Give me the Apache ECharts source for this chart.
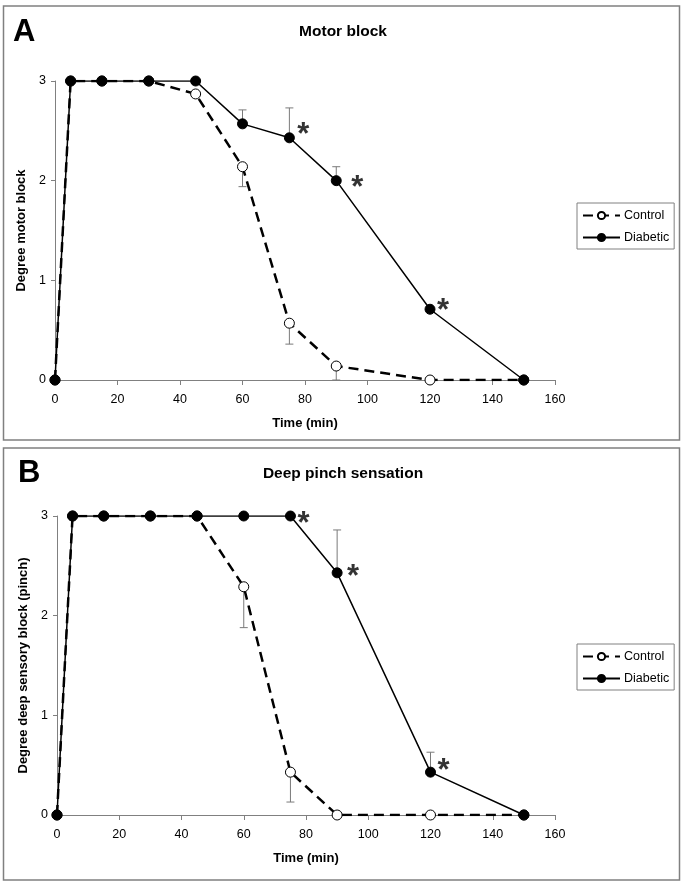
<!DOCTYPE html>
<html>
<head>
<meta charset="utf-8">
<script src="https://cdn.jsdelivr.net/npm/echarts@6/dist/echarts.min.js"></script>
<style>
html,body{margin:0;padding:0;background:#fff;}
#chart{width:683px;height:884px;}
</style>
</head>
<body>
<div id="chart"></div>
<script>
// ---- data ----
const times = [0, 5, 15, 30, 45, 60, 75, 90, 120, 150];
const xTicks = [0, 20, 40, 60, 80, 100, 120, 140, 160];
const yTicks = [0, 1, 2, 3];

// Panel A: Motor block
const controlA = [0, 3, 3, 3, 2.87, 2.14, 0.57, 0.14, 0, 0];
const diabeticA = [0, 3, 3, 3, 3, 2.57, 2.43, 2.0, 0.71, 0];
const errCtrlTimesA = [60, 75, 90];
const errCtrlEndA = [1.94, 0.36, 0];
const errDiabTimesA = [60, 75, 90];
const errDiabEndA = [2.71, 2.73, 2.14];
const starTimesA = [75, 90, 120];

// Panel B: Deep pinch sensation
const controlB = [0, 3, 3, 3, 3, 2.29, 0.43, 0, 0, 0];
const diabeticB = [0, 3, 3, 3, 3, 3, 3, 2.43, 0.43, 0];
const errCtrlTimesB = [60, 75];
const errCtrlEndB = [1.88, 0.13];
const errDiabTimesB = [90, 120];
const errDiabEndB = [2.86, 0.63];
const starTimesB = [75, 90, 120];

// label offsets for asterisks (style only)
const starOffsetA = [[14, -2], [21, 8], [13, 2]];
const starOffsetB = [[13, 8], [16, 5], [13, -1]];

const FONT = '"Liberation Sans", Arial, sans-serif';

function pairs(xs, ys) { return xs.map((x, i) => [x, ys[i]]); }
function errData(xs, series, ends) {
  return xs.map((x, i) => [x, series[times.indexOf(x)], ends[i]]);
}
function starData(xs, series, offs) {
  return xs.map((x, i) => ({ value: [x, series[times.indexOf(x)]], label: { offset: offs[i] } }));
}
function errRender(params, api) {
  const x = api.value(0), y1 = api.value(1), y2 = api.value(2);
  const p1 = api.coord([x, y1]), p2 = api.coord([x, y2]);
  const w = 4;
  const st = { stroke: '#7a7a7a', lineWidth: 1 };
  return {
    type: 'group',
    children: [
      { type: 'line', shape: { x1: p1[0], y1: p1[1], x2: p2[0], y2: p2[1] }, style: st },
      { type: 'line', shape: { x1: p2[0] - w, y1: p2[1], x2: p2[0] + w, y2: p2[1] }, style: st }
    ]
  };
}

function xAxis(gridIndex) {
  return {
    type: 'value', gridIndex, min: xTicks[0], max: xTicks[xTicks.length - 1], interval: 20,
    name: 'Time (min)', nameLocation: 'middle', nameGap: 37,
    nameTextStyle: { fontFamily: FONT, fontSize: 13, fontWeight: 'bold', color: '#000' },
    axisLine: { show: true, onZero: false, lineStyle: { color: '#808080', width: 1 } },
    axisTick: { show: true, inside: false, length: 5, lineStyle: { color: '#808080' } },
    axisLabel: { fontFamily: FONT, fontSize: 12.5, color: '#000', margin: 13 },
    splitLine: { show: false }
  };
}
function yAxis(gridIndex, name, gap) {
  return {
    type: 'value', gridIndex, min: yTicks[0], max: yTicks[yTicks.length - 1], interval: 1,
    name, nameLocation: 'middle', nameGap: gap,
    nameTextStyle: { fontFamily: FONT, fontSize: 13, fontWeight: 'bold', color: '#000' },
    axisLine: { show: true, lineStyle: { color: '#808080', width: 1 } },
    axisTick: { show: true, inside: false, length: 4, lineStyle: { color: '#808080' } },
    axisLabel: { fontFamily: FONT, fontSize: 12.5, color: '#000', margin: 9 },
    splitLine: { show: false }
  };
}

function lineSeries(name, data, gi, dashed) {
  return {
    name, type: 'line', xAxisIndex: gi, yAxisIndex: gi,
    data: pairs(times, data),
    symbol: 'circle', symbolSize: 10, z: dashed ? 3 : 4,
    lineStyle: dashed ? { color: '#000', width: 2.5, type: [10, 6] } : { color: '#000', width: 1.5, type: 'solid' },
    itemStyle: dashed ? { color: '#fff', borderColor: '#000', borderWidth: 1 } : { color: '#000', borderColor: '#000', borderWidth: 1 },
    emphasis: { disabled: true },
    animation: false
  };
}
function errSeries(name, data, gi) {
  return { name, type: 'custom', xAxisIndex: gi, yAxisIndex: gi, data, renderItem: errRender, z: 1, animation: false, silent: true };
}
function starSeries(data, gi) {
  return {
    type: 'scatter', xAxisIndex: gi, yAxisIndex: gi, data,
    symbolSize: 1, itemStyle: { color: 'rgba(0,0,0,0)' }, z: 5, silent: true, animation: false,
    label: { show: true, position: 'inside', formatter: '*', fontFamily: FONT, fontSize: 31, fontWeight: 'bold', color: '#000' }
  };
}
function legend(top) {
  return {
    data: ['Control', 'Diabetic'], orient: 'vertical', left: 577, top,
    padding: [6, 5, 5, 5], itemGap: 9, itemWidth: 37, itemHeight: 9,
    borderColor: '#808080', borderWidth: 1, backgroundColor: '#fff',
    textStyle: { fontFamily: FONT, fontSize: 12.5, color: '#000', padding: [0, 0, 0, -1] },
    selectedMode: false
  };
}

const chart = echarts.init(document.getElementById('chart'), null, { renderer: 'canvas' });
chart.setOption({
  backgroundColor: '#fff',
  animation: false,
  grid: [
    { left: 55, top: 81, width: 500, height: 299 },
    { left: 57, top: 516, width: 498, height: 299 }
  ],
  xAxis: [xAxis(0), xAxis(1)],
  yAxis: [yAxis(0, 'Degree motor block', 27), yAxis(1, 'Degree deep sensory block (pinch)', 26)],
  legend: [legend(203), legend(644)],
  graphic: [
    { type: 'rect', shape: { x: 3.5, y: 6, width: 676, height: 434 }, style: { fill: 'none', stroke: '#808080', lineWidth: 1.5 }, silent: true, z: -1 },
    { type: 'rect', shape: { x: 3.5, y: 448, width: 676, height: 432 }, style: { fill: 'none', stroke: '#808080', lineWidth: 1.5 }, silent: true, z: -1 },
    { type: 'text', x: 13, y: 32, style: { text: 'A', font: 'bold 31px ' + FONT, fill: '#000', align: 'left', verticalAlign: 'middle' } },
    { type: 'text', x: 18, y: 473, style: { text: 'B', font: 'bold 31px ' + FONT, fill: '#000', align: 'left', verticalAlign: 'middle' } },
    { type: 'text', x: 343, y: 32, style: { text: 'Motor block', font: 'bold 15.5px ' + FONT, fill: '#000', align: 'center', verticalAlign: 'middle' } },
    { type: 'text', x: 343, y: 474, style: { text: 'Deep pinch sensation', font: 'bold 15.5px ' + FONT, fill: '#000', align: 'center', verticalAlign: 'middle' } }
  ],
  series: [
    errSeries('errCA', errData(errCtrlTimesA, controlA, errCtrlEndA), 0),
    errSeries('errDA', errData(errDiabTimesA, diabeticA, errDiabEndA), 0),
    lineSeries('Control', controlA, 0, true),
    lineSeries('Diabetic', diabeticA, 0, false),
    starSeries(starData(starTimesA, diabeticA, starOffsetA), 0),
    errSeries('errCB', errData(errCtrlTimesB, controlB, errCtrlEndB), 1),
    errSeries('errDB', errData(errDiabTimesB, diabeticB, errDiabEndB), 1),
    lineSeries('Control', controlB, 1, true),
    lineSeries('Diabetic', diabeticB, 1, false),
    starSeries(starData(starTimesB, diabeticB, starOffsetB), 1)
  ]
});
</script>
</body>
</html>
